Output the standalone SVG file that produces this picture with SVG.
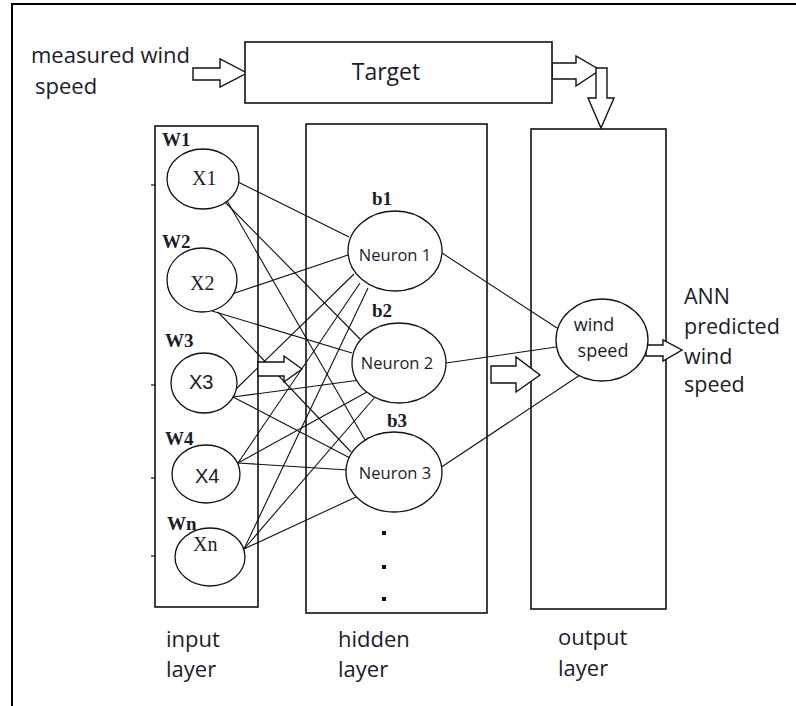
<svg xmlns="http://www.w3.org/2000/svg" width="796" height="706" viewBox="0 0 796 706">
<style>
.frame{fill:none;stroke:#000;stroke-width:2}
.box{fill:none;stroke:#111;stroke-width:1.6}
.tbox{fill:#fff;stroke:#111;stroke-width:1.6}
.node{fill:#fff;stroke:#111;stroke-width:1.3}
.barrow{fill:#fff;stroke:#111;stroke-width:1.4;stroke-linejoin:miter}
.ln{stroke:#111;stroke-width:1.1;fill:none}
.tick{stroke:#111;stroke-width:1.2}
.t{font-family:"Open Sans","Liberation Sans",sans-serif;fill:#1c1c2a}
.w{font-family:"Liberation Serif","Times New Roman",serif;font-weight:bold;font-size:19px;fill:#1c1c2a}
.xs{font-family:"Liberation Serif","Times New Roman",serif;font-size:20px;fill:#1c1c2a}
.xa{font-family:"Liberation Sans",Arial,sans-serif;font-size:20px;fill:#1c1c2a}
</style>
<rect width="796" height="706" fill="#fff"/>
<polyline class="frame" points="12,706 12,4 796,4"/>

<!-- layer boxes -->
<g id="input-layer">
  <rect class="box" x="155" y="126" width="103" height="481"/>
  <line class="tick" x1="151" y1="185" x2="155" y2="185"/>
  <line class="tick" x1="151" y1="385" x2="155" y2="385"/>
  <line class="tick" x1="151" y1="478" x2="155" y2="478"/>
  <line class="tick" x1="151" y1="556" x2="155" y2="556"/>
  <text class="t" x="166" y="647" font-size="22">input</text>
  <text class="t" x="166" y="677" font-size="22">layer</text>
</g>
<g id="hidden-layer">
  <rect class="box" x="306" y="124" width="181" height="489"/>
  <text class="t" x="338" y="647" font-size="22">hidden</text>
  <text class="t" x="338" y="677" font-size="22">layer</text>
</g>
<g id="output-layer">
  <rect class="box" x="531" y="129" width="135" height="480"/>
  <text class="t" x="558" y="645" font-size="22">output</text>
  <text class="t" x="558" y="676" font-size="22">layer</text>
</g>

<!-- connectors -->
<g id="connectors">
  <!-- X1 -->
  <line class="ln" x1="238" y1="182" x2="349" y2="237"/>
  <line class="ln" x1="224" y1="201" x2="361" y2="340"/>
  <line class="ln" x1="226" y1="199" x2="365" y2="440"/>
  <!-- X2 -->
  <line class="ln" x1="232" y1="294" x2="348" y2="255"/>
  <line class="ln" x1="212" y1="311" x2="352" y2="353"/>
  <line class="ln" x1="218" y1="312" x2="351" y2="452"/>
  <!-- X3 -->
  <line class="ln" x1="235" y1="390" x2="354" y2="274"/>
  <line class="ln" x1="233" y1="397" x2="360" y2="380"/>
  <line class="ln" x1="233" y1="397" x2="350" y2="458"/>
  <!-- X4 -->
  <line class="ln" x1="238" y1="463" x2="360" y2="283"/>
  <line class="ln" x1="238" y1="463" x2="367" y2="392"/>
  <line class="ln" x1="238" y1="463" x2="348" y2="470"/>
  <!-- Xn -->
  <line class="ln" x1="244" y1="549" x2="368" y2="288"/>
  <line class="ln" x1="244" y1="549" x2="375" y2="397"/>
  <line class="ln" x1="244" y1="549" x2="356" y2="497"/>
  <!-- hidden to output -->
  <line class="ln" x1="442" y1="253" x2="557" y2="328"/>
  <line class="ln" x1="446" y1="363" x2="556" y2="347"/>
  <line class="ln" x1="440" y1="468" x2="580" y2="375"/>
  <!-- block arrows -->
  <polygon class="barrow" points="193,68 220,68 220,59 247,73 220,87 220,80 193,80"/>
  <polygon class="barrow" points="552,63 576,63 576,56 600,70 576,86 576,79 552,79"/>
  <polygon class="barrow" points="596,68 607,68 607,98 614,98 601,128 588,98 596,98"/>
  <polygon class="barrow" points="258,362 284,362 284,356 302,369 284,382 284,376 258,376"/>
  <polygon class="barrow" points="491,366 516,366 516,357 540,375 516,392 516,383 491,383"/>
  <polygon class="barrow" points="646,345 663,345 663,340 682,350 663,361 663,356 646,356"/>
</g>

<!-- target -->
<g id="target">
  <rect class="tbox" x="245" y="42" width="307" height="61"/>
  <text class="t" x="386" y="80" font-size="23" text-anchor="middle">Target</text>
</g>
<g id="measured-label">
  <text class="t" x="31" y="63" font-size="22">measured wind</text>
  <text class="t" x="35" y="94" font-size="22">speed</text>
</g>

<!-- input nodes -->
<g id="x1">
  <text class="w" x="162" y="146">W1</text>
  <ellipse class="node" cx="203" cy="179" rx="36" ry="30" stroke-width="1.6"/>
  <text class="xs" x="192" y="185">X1</text>
</g>
<g id="x2">
  <text class="w" x="162" y="248">W2</text>
  <ellipse class="node" cx="202" cy="280" rx="35" ry="32" stroke-width="1.6"/>
  <text class="xs" x="190" y="290">X2</text>
</g>
<g id="x3">
  <text class="w" x="165" y="347">W3</text>
  <ellipse class="node" cx="204" cy="383" rx="33" ry="30" stroke-width="1.8"/>
  <text class="xa" x="189" y="389">X3</text>
</g>
<g id="x4">
  <text class="w" x="165" y="445">W4</text>
  <ellipse class="node" cx="206" cy="474" rx="34" ry="29"/>
  <text class="xa" x="195" y="483">X4</text>
</g>
<g id="xn">
  <ellipse class="node" cx="210" cy="557" rx="35" ry="29"/>
  <text class="w" x="167" y="530">Wn</text>
  <text class="xs" x="193" y="551">Xn</text>
</g>

<!-- hidden nodes -->
<g id="neuron1">
  <text class="w" x="372" y="205" font-size="20">b1</text>
  <ellipse class="node" cx="395" cy="251" rx="47" ry="40"/>
  <text class="t" x="395" y="261" font-size="16.5" text-anchor="middle">Neuron 1</text>
</g>
<g id="neuron2">
  <text class="w" x="372" y="317" font-size="20">b2</text>
  <ellipse class="node" cx="399" cy="363" rx="47" ry="40"/>
  <text class="t" x="397" y="369" font-size="16.5" text-anchor="middle">Neuron 2</text>
</g>
<g id="neuron3">
  <text class="w" x="387" y="427" font-size="20">b3</text>
  <ellipse class="node" cx="394" cy="472" rx="48" ry="40"/>
  <text class="t" x="395" y="479" font-size="16.5" text-anchor="middle">Neuron 3</text>
</g>
<g id="dots">
  <rect x="382" y="531" width="4" height="4" fill="#111"/>
  <rect x="382" y="565" width="4" height="4" fill="#111"/>
  <rect x="382" y="597" width="4" height="4" fill="#111"/>
</g>

<!-- output node -->
<g id="output-node">
  <ellipse class="node" cx="602" cy="340" rx="46" ry="41"/>
  <text class="t" x="594" y="331" font-size="18" text-anchor="middle">wind</text>
  <text class="t" x="603" y="357" font-size="18" text-anchor="middle">speed</text>
</g>
<g id="ann-label">
  <text class="t" x="684" y="304" font-size="21.5">ANN</text>
  <text class="t" x="684" y="334" font-size="21.5">predicted</text>
  <text class="t" x="684" y="364" font-size="21.5">wind</text>
  <text class="t" x="684" y="392" font-size="21.5">speed</text>
</g>
</svg>
